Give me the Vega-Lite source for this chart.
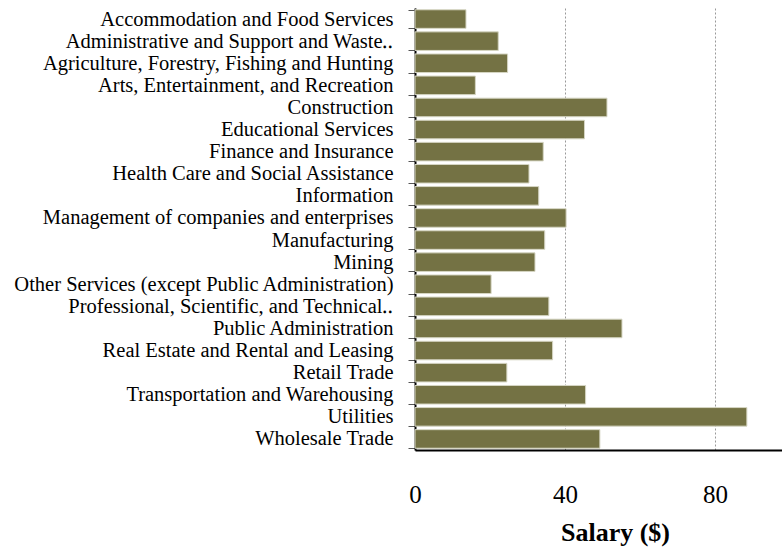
{
  "$schema": "https://vega.github.io/schema/vega-lite/v6.json",
  "autosize": "none",
  "padding": {"left": 415, "top": 8, "right": 0, "bottom": 98},
  "width": 400,
  "height": 442,
  "background": "white",
  "data": {
    "values": [
      {"industry": "Accommodation and Food Services", "salary": 13.6},
      {"industry": "Administrative and Support and Waste Management and Remediation Services", "salary": 22.2},
      {"industry": "Agriculture, Forestry, Fishing and Hunting", "salary": 24.7},
      {"industry": "Arts, Entertainment, and Recreation", "salary": 16.1},
      {"industry": "Construction", "salary": 51.2},
      {"industry": "Educational Services", "salary": 45.2},
      {"industry": "Finance and Insurance", "salary": 34.2},
      {"industry": "Health Care and Social Assistance", "salary": 30.4},
      {"industry": "Information", "salary": 33.0},
      {"industry": "Management of companies and enterprises", "salary": 40.3},
      {"industry": "Manufacturing", "salary": 34.6},
      {"industry": "Mining", "salary": 32.0},
      {"industry": "Other Services (except Public Administration)", "salary": 20.3},
      {"industry": "Professional, Scientific, and Technical Services", "salary": 35.7},
      {"industry": "Public Administration", "salary": 55.2},
      {"industry": "Real Estate and Rental and Leasing", "salary": 36.7},
      {"industry": "Retail Trade", "salary": 24.5},
      {"industry": "Transportation and Warehousing", "salary": 45.5},
      {"industry": "Utilities", "salary": 88.5},
      {"industry": "Wholesale Trade", "salary": 49.3}
    ]
  },
  "mark": {"type": "bar", "fill": "#747244", "stroke": "#d6d6c4", "strokeWidth": 1},
  "encoding": {
    "y": {
      "field": "industry",
      "type": "nominal",
      "sort": null,
      "title": null,
      "scale": {"paddingInner": 0.16, "paddingOuter": 0.08},
      "axis": {
        "tickBand": "extent",
        "tickSize": 7,
        "tickColor": "#555555",
        "domainColor": "#000000",
        "domainWidth": 2,
        "labelFont": "Liberation Serif",
        "labelFontSize": 20.5,
        "labelColor": "#000000",
        "labelPadding": 15,
        "labelLimit": 500,
        "labelExpr": "datum.value == 'Administrative and Support and Waste Management and Remediation Services' ? 'Administrative and Support and Waste\u2025' : (datum.value == 'Professional, Scientific, and Technical Services' ? 'Professional, Scientific, and Technical\u2025' : datum.value)"
      }
    },
    "x": {
      "field": "salary",
      "type": "quantitative",
      "title": "Salary ($)",
      "scale": {"domain": [0, 106.67], "nice": false},
      "axis": {
        "values": [0, 40, 80],
        "ticks": false,
        "grid": true,
        "gridColor": "#999999",
        "gridDash": [2, 2],
        "gridWidth": 1,
        "domainColor": "#000000",
        "domainWidth": 2,
        "labelFont": "Liberation Serif",
        "labelFontSize": 25,
        "labelColor": "#000000",
        "labelPadding": 32,
        "labelFlush": false,
        "titleFont": "Liberation Serif",
        "titleFontSize": 26,
        "titleFontWeight": "bold",
        "titleColor": "#000000",
        "titlePadding": 12
      }
    }
  },
  "config": {"view": {"stroke": null}}
}
